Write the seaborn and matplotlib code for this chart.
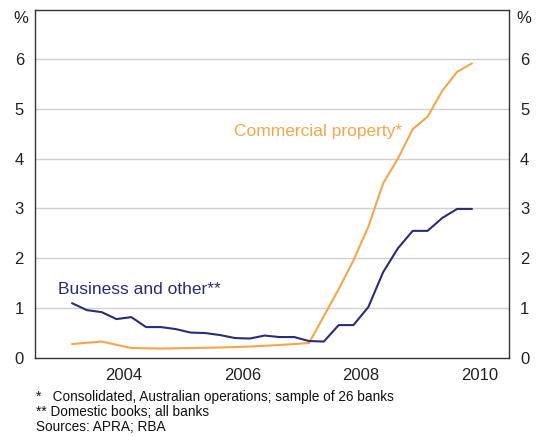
import numpy as np
import pandas as pd
import matplotlib
matplotlib.use("Agg")
import matplotlib.pyplot as plt
import seaborn as sns

# quarterly dates, Sep 2003 to Jun 2010 (as fractional years)
dates = [2003.625 + 0.25 * i for i in range(28)]

business = [1.10, 0.96, 0.92, 0.78, 0.82, 0.62, 0.62, 0.58, 0.51, 0.50,
            0.46, 0.40, 0.39, 0.45, 0.42, 0.42, 0.34, 0.33, 0.66, 0.66,
            1.02, 1.72, 2.20, 2.55, 2.55, 2.81, 2.99, 2.99]

# semi-annual early on, quarterly later (NaN = no observation)
commercial = [0.28, np.nan, 0.33, np.nan, 0.20, np.nan, 0.19, np.nan, 0.20, np.nan,
              0.21, np.nan, 0.23, np.nan, 0.26, np.nan, 0.30, np.nan, 1.38, 1.96,
              2.63, 3.50, 4.00, 4.59, 4.84, 5.36, 5.74, 5.91]

year_labels = ["2004", "2006", "2008", "2010"]
footnotes = ["*   Consolidated, Australian operations; sample of 26 banks",
             "** Domestic books; all banks",
             "Sources: APRA; RBA"]

df = pd.DataFrame({"date": dates, "business": business, "commercial": commercial})

sns.set_style("white")
plt.rcParams["font.family"] = ["Liberation Sans", "DejaVu Sans"]

orange = "#F7A54A"
navy = "#2B2C78"

fig = plt.figure(figsize=(5.4, 4.37), dpi=100)
ax = fig.add_axes([0.0648, 0.1808, 0.8778, 0.7963])

for v in range(1, 7):
    ax.axhline(v, color="#d0d0d0", lw=1.0, zorder=0)

sns.lineplot(data=df.dropna(subset=["commercial"]), x="date", y="commercial",
             color=orange, lw=1.5, ax=ax)
sns.lineplot(data=df, x="date", y="business", color=navy, lw=1.5, ax=ax)

ax.set_xlim(2003, 2011)
ax.set_ylim(0, 6.98)
ax.set_xlabel("")
ax.set_ylabel("")

ax.set_xticks([int(y) + 0.5 for y in year_labels])
ax.set_xticklabels(year_labels)
ax.set_xticks(range(2004, 2011), minor=True)
ax.tick_params(axis="x", which="major", length=0, pad=7, labelsize=12, colors="#222222")
ax.tick_params(axis="x", which="minor", direction="in", length=6, width=1, color="#555555")

ax.set_yticks(range(0, 7))
ax.tick_params(axis="y", which="major", length=0, pad=8, labelsize=12,
               labelleft=True, labelright=True, colors="#222222")

for s in ax.spines.values():
    s.set_color("#333333")
    s.set_linewidth(1.0)

ax.text(-0.015, 6.8, "%", transform=ax.get_yaxis_transform(), ha="right",
        va="center", fontsize=12, color="#222222")
ax.text(1.016, 6.8, "%", transform=ax.get_yaxis_transform(), ha="left",
        va="center", fontsize=12, color="#222222")

ax.text(2003.39, 1.38, "Business and other**", color=navy, fontsize=12.5,
        ha="left", va="center")
ax.text(2006.36, 4.55, "Commercial property*", color=orange, fontsize=12.5,
        ha="left", va="center")

for i, line in enumerate(footnotes):
    fig.text(0.067, 1 - (397 + 15 * i) / 437, line, fontsize=9.8,
             ha="left", va="center", color="#111111")

fig.savefig("out.png", dpi=100)
